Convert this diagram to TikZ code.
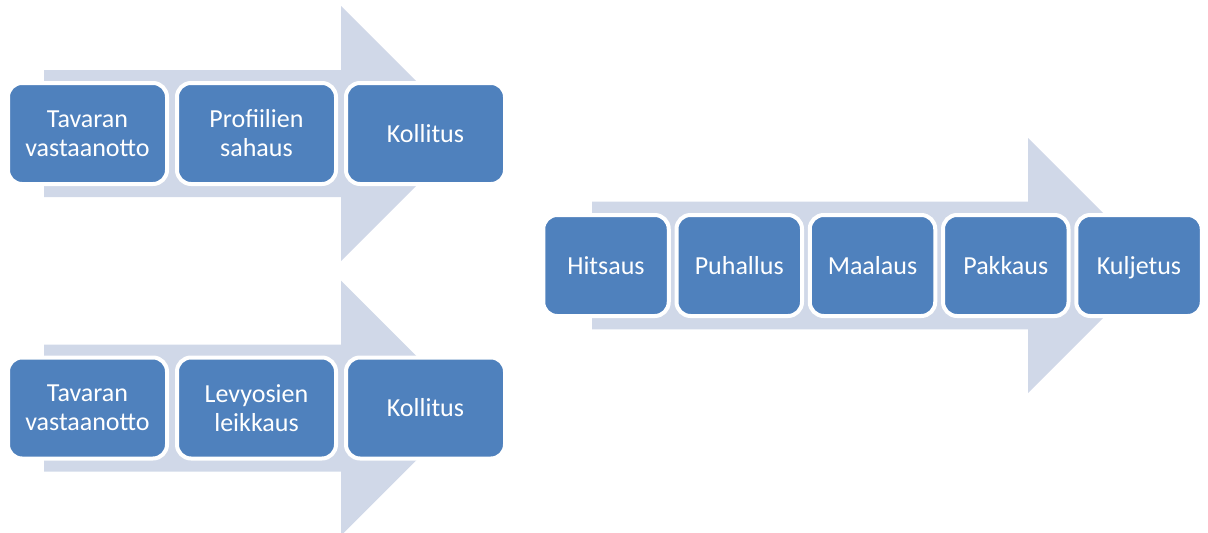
\documentclass[tikz,border=0pt]{standalone}
\usepackage{fontspec}
\setmainfont{Carlito}
\definecolor{boxblue}{HTML}{4F81BD}
\definecolor{arrowfill}{HTML}{D0D8E8}
\tikzset{
  stepbox/.style={draw=white, line width=4pt, fill=boxblue, rounded corners=14pt,
    inner sep=0pt, align=center, text=white,
    font=\fontsize{26pt}{29pt}\selectfont},
  wide/.style={stepbox, minimum width=159pt, minimum height=101pt},
  narrow/.style={stepbox, minimum width=125.5pt, minimum height=101pt, text depth=0pt},
  bgarrow/.style={fill=arrowfill}
}
\begin{document}
\begin{tikzpicture}[x=1pt,y=-1pt]
\useasboundingbox (0,0) rectangle (1208,533);
% background arrows
\fill[bgarrow] (44,70) -- (341,70) -- (341,6) -- (468.5,133.5) -- (341,261) -- (341,197) -- (44,197) -- cycle;
\fill[bgarrow] (44,344.5) -- (341,344.5) -- (341,280.5) -- (468.5,408) -- (341,535.5) -- (341,471.5) -- (44,471.5) -- cycle;
\fill[bgarrow] (592,201.7) -- (1028,201.7) -- (1028,138) -- (1155.5,265.5) -- (1028,393) -- (1028,329.3) -- (592,329.3) -- cycle;
% group 1
\node[wide] (a1) at (87.5,133.5) {Tavaran\\vastaanotto};
\node[wide] (a2) at (256.5,133.5) {Profiilien\\sahaus};
\node[wide] (a3) at (425.5,133.5) {Kollitus};
% group 2
\node[wide] (b1) at (87.5,408) {Tavaran\\vastaanotto};
\node[wide] (b2) at (256.5,408) {Levyosien\\leikkaus};
\node[wide] (b3) at (425.5,408) {Kollitus};
% group 3
\node[narrow] (c1) at (606.0,265.5) {Hitsaus};
\node[narrow] (c2) at (739.25,265.5) {Puhallus};
\node[narrow] (c3) at (872.5,265.5) {Maalaus};
\node[narrow] (c4) at (1005.75,265.5) {Pakkaus};
\node[narrow] (c5) at (1139.0,265.5) {Kuljetus};
\end{tikzpicture}
\end{document}
